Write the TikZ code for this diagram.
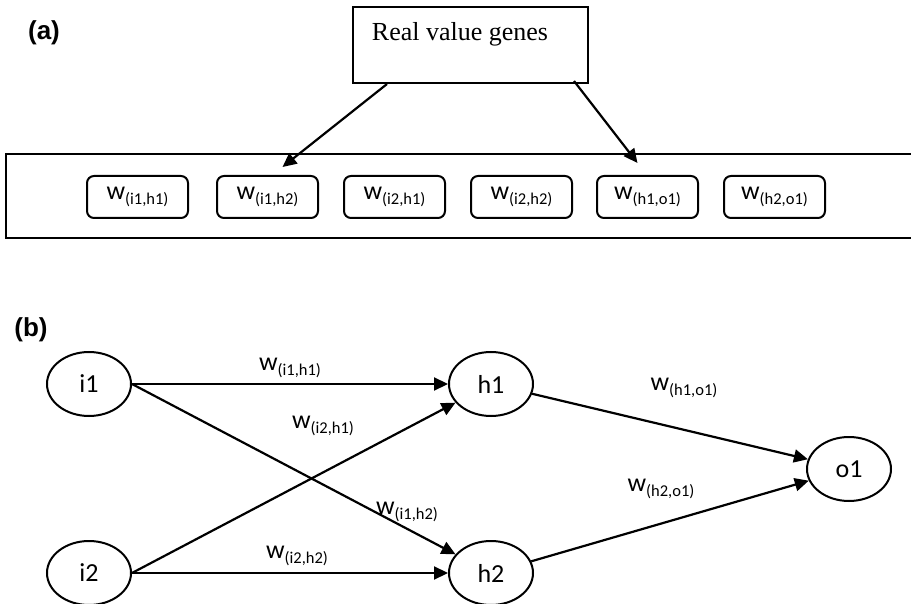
\documentclass[tikz,border=0pt]{standalone}
\usepackage{fontspec}
\setmainfont{Carlito}
\newfontfamily\serifrm{Liberation Serif}
\newfontfamily\arialbf{Liberation Sans}
\usetikzlibrary{shapes.geometric,arrows.meta,calc}
\newcommand\wlab[1]{{\fontsize{26}{26}\selectfont w}\raisebox{-5pt}{\fontsize{16.5}{16.5}\selectfont (#1)}}
\begin{document}
\begin{tikzpicture}[x=1pt,y=-1pt,
  gene/.style={draw, line width=2pt, rounded corners=7pt, minimum width=101pt, minimum height=42pt, inner sep=0pt},
  neuron/.style={draw, ellipse, line width=2pt, minimum width=84pt, minimum height=64pt, inner sep=0pt, font=\fontsize{26}{26}\selectfont},
  lab/.style={inner sep=0pt},
  conn/.style={line width=2.2pt, -{Triangle[length=14pt,width=13pt]}},
  panel/.style={font=\arialbf\bfseries\fontsize{26}{26}\selectfont, inner sep=0pt}]
\useasboundingbox (0,0) rectangle (911,604);
% panel (a)
\node[panel] (pa) at (44,33) {(a)};
\node[draw, line width=2pt, minimum width=235pt, minimum height=76pt, inner sep=0pt] (rvg) at (470.5,45) {};
\node[inner sep=0pt, font=\serifrm\fontsize{26}{26}\selectfont] (rvgt) at (460,34) {Real value genes};
\draw[line width=2.2pt] (915,154) -- (6,154) -- (6,238) -- (915,238);
\node[gene] (g1) at (137.5,197) {\wlab{i1,h1}};
\node[gene] (g2) at (267.5,197) {\wlab{i1,h2}};
\node[gene] (g3) at (394.5,197) {\wlab{i2,h1}};
\node[gene] (g4) at (521.5,197) {\wlab{i2,h2}};
\node[gene] (g5) at (647.5,197) {\wlab{h1,o1}};
\node[gene] (g6) at (774.5,197) {\wlab{h2,o1}};
\coordinate (s1) at ($(rvg.south west)+(35,0)$);
\coordinate (s2) at ($(rvg.south east)+(-15,-3)$);
\coordinate (t1) at ($(g2.north)+(15,-8)$);
\coordinate (t2) at ($(g5.north)+(-10,-12)$);
\draw[conn] (s1) -- (t1);
\draw[conn] (s2) -- (t2);
% panel (b)
\node[panel] (pb) at (31,330) {(b)};
\node[neuron] (i1) at (89,384) {i1};
\node[neuron] (i2) at (89,573) {i2};
\node[neuron] (h1) at (491,384) {h1};
\node[neuron] (h2) at (491,573) {h2};
\node[neuron] (o1) at (849,469) {o1};
\draw[conn] (i1) -- (h1);
\draw[conn] (i1.east) -- (h2);
\draw[conn] (i2.east) -- (h1);
\draw[conn] (i2) -- (h2);
\draw[conn] (h1) -- (o1);
\draw[conn] (h2) -- (o1);
\node[lab] (l1) at (290,368) {\wlab{i1,h1}};
\node[lab] (l2) at (323,426) {\wlab{i2,h1}};
\node[lab] (l3) at (407,512) {\wlab{i1,h2}};
\node[lab] (l4) at (297,556) {\wlab{i2,h2}};
\node[lab] (l5) at (684,388) {\wlab{h1,o1}};
\node[lab] (l6) at (661,489) {\wlab{h2,o1}};
\end{tikzpicture}
\end{document}
